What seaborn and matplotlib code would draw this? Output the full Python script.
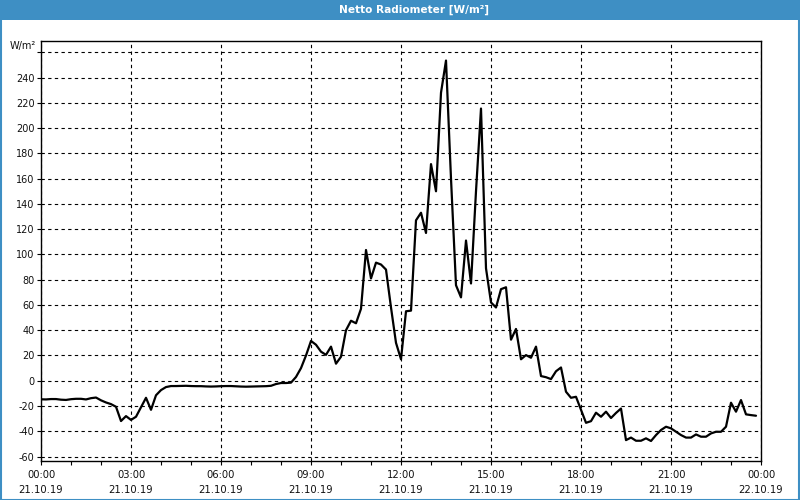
import numpy as np
import pandas as pd
import matplotlib
matplotlib.use("Agg")
import matplotlib.pyplot as plt
from matplotlib.patches import Rectangle
import seaborn as sns

# ---- data (10-minute samples, 21.10.19 00:00 .. 23:50) ----
values = [
    -14.7, -14.8, -14.5, -14.5, -15.0, -15.2, -14.6, -14.3, -14.3, -14.8,
    -13.8, -13.3, -15.5, -17.2, -18.5, -20.6, -31.9, -28.0, -31.0, -28.5,
    -21.0, -13.5, -23.0, -11.5, -7.4, -5.0, -4.2, -4.2, -4.1, -4.0,
    -4.2, -4.3, -4.3, -4.5, -4.6, -4.5, -4.3, -4.2, -4.2, -4.4,
    -4.6, -4.7, -4.6, -4.5, -4.4, -4.3, -4.0, -2.6, -1.8, -1.8,
    -1.5, 3.0, 10.0, 20.0, 31.5, 28.5, 23.0, 20.5, 27.0, 13.5,
    19.0, 40.0, 47.5, 45.5, 57.0, 103.5, 81.0, 93.5, 92.0, 88.0,
    58.0, 30.0, 17.0, 55.0, 55.5, 127.0, 133.0, 117.0, 171.5, 150.0,
    228.0, 253.5, 160.0, 75.6, 66.0, 111.0, 77.0, 150.0, 215.5, 89.0,
    62.0, 58.0, 72.5, 74.0, 32.5, 41.0, 17.0, 20.3, 18.2, 27.0,
    3.7, 2.8, 1.3, 7.5, 10.5, -8.7, -13.5, -12.7, -23.0, -33.3,
    -32.0, -25.3, -28.5, -24.5, -29.5, -25.5, -22.0, -47.0, -45.0, -47.5,
    -47.5, -45.6, -47.7, -43.0, -39.0, -36.4, -37.7, -40.4, -43.0, -45.0,
    -45.0, -42.5, -44.3, -44.3, -41.7, -40.4, -40.4, -36.4, -17.4, -24.5,
    -15.3, -26.6, -27.2, -27.7,
]
step_minutes = 10
hours = np.arange(len(values)) * step_minutes / 60.0

x_tick_hours = [0, 3, 6, 9, 12, 15, 18, 21, 24]
x_tick_labels = ["00:00\n21.10.19", "03:00\n21.10.19", "06:00\n21.10.19",
                 "09:00\n21.10.19", "12:00\n21.10.19", "15:00\n21.10.19",
                 "18:00\n21.10.19", "21:00\n21.10.19", "00:00\n22.10.19"]
y_ticks = [-60, -40, -20, 0, 20, 40, 60, 80, 100, 120, 140, 160, 180,
           200, 220, 240, 260]
y_tick_labels = [str(v) for v in y_ticks[:-1]] + [""]

title = "Netto Radiometer [W/m²]"
unit = "W/m²"

df = pd.DataFrame({"hour": hours, "value": values})

sns.set_style("white")
plt.rcParams["font.family"] = ["DejaVu Sans"]

fig = plt.figure(figsize=(8, 5), dpi=100, facecolor="white")
ax = fig.add_axes([41 / 800, 1 - 460.7 / 500, 720 / 800, (460.7 - 40.7) / 500])
ax.set_facecolor("white")

sns.lineplot(data=df, x="hour", y="value", ax=ax, color="black",
             linewidth=1.6, zorder=3)

ax.set_xlim(0, 24)
ax.set_ylim(-63.3, 269.2)
ax.set_xticks(x_tick_hours)
ax.set_xticklabels(x_tick_labels, linespacing=1.55, fontsize=7.2)
ax.set_xticks(np.arange(0, 25, 1), minor=True)
ax.set_yticks(y_ticks)
ax.set_yticklabels(y_tick_labels, fontsize=7)
ax.set_xlabel("")
ax.set_ylabel("")

ax.grid(True, which="major", color="black", linestyle=(0, (3, 3)), linewidth=0.8)
ax.tick_params(axis="x", which="both", direction="out", length=3, width=0.8,
               color="black", pad=4, bottom=True, labelcolor="#111111")
ax.tick_params(axis="y", direction="out", length=3, width=0.8, color="black",
               pad=1.5, left=True, labelcolor="#111111")
for s in ax.spines.values():
    s.set_visible(True)
    s.set_color("black")
    s.set_linewidth(1.0)

# title bar
blue = "#3e8fc4"
fig.patches.append(Rectangle((0, 1 - 20 / 500), 1, 20 / 500,
                             transform=fig.transFigure, facecolor=blue,
                             edgecolor="none", zorder=0))
fig.patches.append(Rectangle((0.001, 0.001), 0.998, 0.998,
                             transform=fig.transFigure, facecolor="none",
                             edgecolor=blue, linewidth=1.5, zorder=5))
fig.text(414 / 800, 1 - 10 / 500, title, color="white", fontsize=7.6,
         fontweight="bold", ha="center", va="center")
fig.text(23 / 800, 1 - 45.5 / 500, unit, color="#111111", fontsize=7,
         ha="center", va="center")

fig.savefig("out.png", dpi=100, facecolor="white")
